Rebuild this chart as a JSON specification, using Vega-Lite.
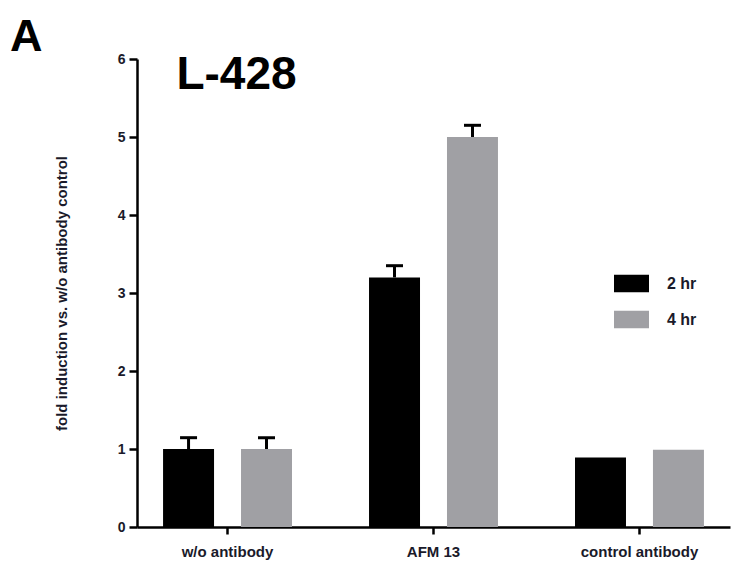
{
  "$schema": "https://vega.github.io/schema/vega-lite/v6.json",
  "autosize": "none",
  "width": 593,
  "height": 468,
  "padding": {"left": 137, "top": 59, "right": 13, "bottom": 43},
  "background": "white",
  "title": {"text": "A", "anchor": "start", "frame": "group", "dx": -127, "offset": -8, "font": "Liberation Sans", "fontSize": 45, "fontWeight": "bold", "color": "black"},
  "data": {"values": [
    {"cat": "w/o antibody", "time": "2 hr", "value": 1.0, "upper": 1.145},
    {"cat": "w/o antibody", "time": "4 hr", "value": 1.0, "upper": 1.145},
    {"cat": "AFM 13", "time": "2 hr", "value": 3.2, "upper": 3.35},
    {"cat": "AFM 13", "time": "4 hr", "value": 5.0, "upper": 5.15},
    {"cat": "control antibody", "time": "2 hr", "value": 0.89, "upper": null},
    {"cat": "control antibody", "time": "4 hr", "value": 0.99, "upper": null}
  ]},
  "encoding": {
    "x": {"field": "cat", "type": "nominal", "sort": ["w/o antibody", "AFM 13", "control antibody"],
      "scale": {"paddingInner": 0.374, "paddingOuter": 0.1265},
      "axis": {"title": null, "labelAngle": 0, "labelFont": "Liberation Sans", "labelFontWeight": "bold", "labelFontSize": 15, "labelColor": "#1a1a2a", "labelPadding": 10, "domainColor": "black", "domainWidth": 2.5, "tickColor": "black", "tickWidth": 2.5, "tickSize": 7}},
    "xOffset": {"field": "time", "type": "nominal", "scale": {"paddingInner": 0.346, "paddingOuter": 0}}
  },
  "layer": [
    {
      "mark": {"type": "bar"},
      "encoding": {
        "y": {"field": "value", "type": "quantitative", "scale": {"domain": [0, 6], "nice": false},
          "axis": {"title": "fold induction vs. w/o antibody control", "values": [0, 1, 2, 3, 4, 5, 6], "format": "d", "grid": false,
            "titleFont": "Liberation Sans", "titleFontWeight": "bold", "titleFontSize": 15, "titleColor": "#1a1a2a", "titlePadding": 48,
            "labelFont": "Liberation Sans", "labelFontWeight": "bold", "labelFontSize": 14, "labelColor": "#1a1a2a", "labelPadding": 4,
            "domainColor": "black", "domainWidth": 2.5, "tickColor": "black", "tickWidth": 2.5, "tickSize": 8}},
        "color": {"field": "time", "type": "nominal", "scale": {"domain": ["2 hr", "4 hr"], "range": ["#000000", "#a0a0a4"]},
          "legend": {"title": null, "orient": "none", "legendX": 477, "legendY": 207, "symbolType": "M-1,-0.5H1V0.5H-1Z", "symbolSize": 1225, "symbolStrokeWidth": 0, "symbolOpacity": 1,
            "labelFont": "Liberation Sans", "labelFontSize": 16, "labelFontWeight": "bold", "labelColor": "#1a1a2a", "labelOffset": 18, "rowPadding": 9}}
      }
    },
    {
      "transform": [{"filter": "datum.upper != null"}],
      "mark": {"type": "rule", "color": "black", "strokeWidth": 3},
      "encoding": {
        "y": {"field": "value", "type": "quantitative"},
        "y2": {"field": "upper"}
      }
    },
    {
      "transform": [{"filter": "datum.upper != null"}],
      "mark": {"type": "tick", "color": "black", "size": 17, "thickness": 3, "opacity": 1},
      "encoding": {
        "y": {"field": "upper", "type": "quantitative"}
      }
    },
    {
      "data": {"values": [{"label": "L-428", "cat": "w/o antibody", "yv": 5.62}]},
      "mark": {"type": "text", "font": "Liberation Sans", "fontSize": 46, "fontWeight": "bold", "align": "center", "baseline": "alphabetic", "dx": 9, "color": "black"},
      "encoding": {
        "x": {"field": "cat", "type": "nominal"},
        "xOffset": null,
        "y": {"field": "yv", "type": "quantitative"},
        "text": {"field": "label"}
      }
    }
  ],
  "config": {"view": {"stroke": null}}
}
